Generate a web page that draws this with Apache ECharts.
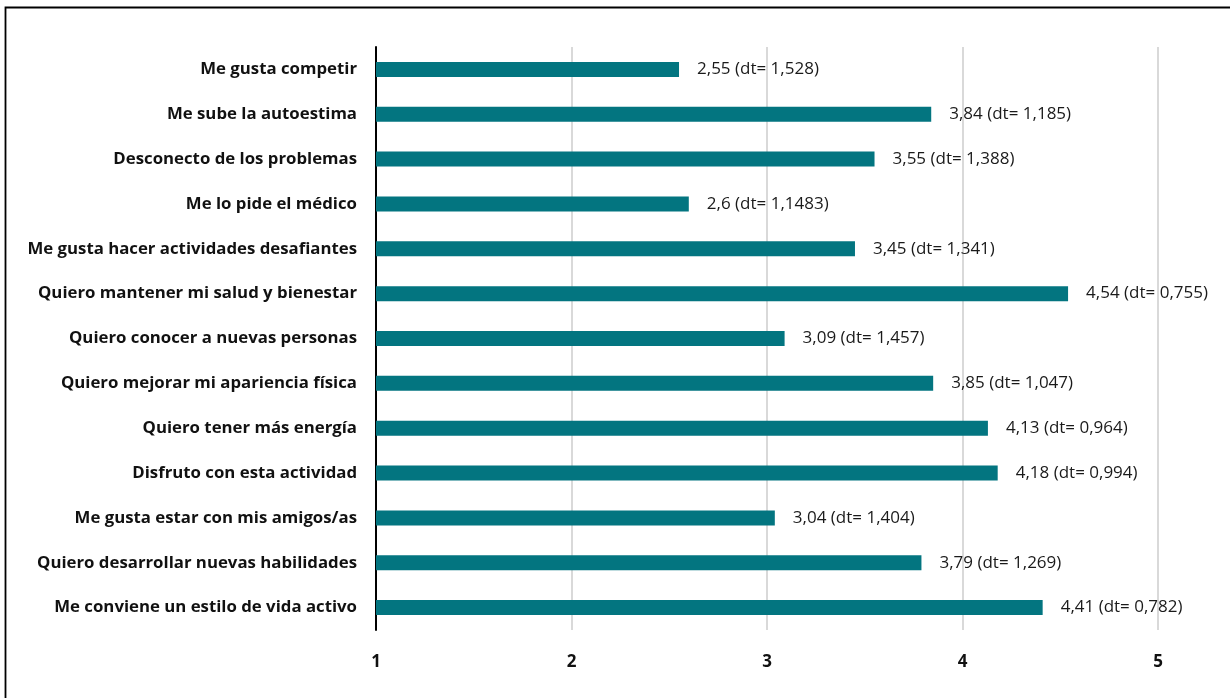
<!DOCTYPE html>
<html>
<head>
<meta charset="utf-8">
<script src="https://cdn.jsdelivr.net/npm/echarts@6/dist/echarts.min.js"></script>
<style>
  html, body { margin: 0; padding: 0; background: #fff; }
  #chart { width: 1230px; height: 698px; }
</style>
</head>
<body>
<div id="chart"></div>
<script>
// Motivos para la práctica de actividad física: media y desviación típica
const categories = [
  'Me gusta competir',
  'Me sube la autoestima',
  'Desconecto de los problemas',
  'Me lo pide el médico',
  'Me gusta hacer actividades desafiantes',
  'Quiero mantener mi salud y bienestar',
  'Quiero conocer a nuevas personas',
  'Quiero mejorar mi apariencia física',
  'Quiero tener más energía',
  'Disfruto con esta actividad',
  'Me gusta estar con mis amigos/as',
  'Quiero desarrollar nuevas habilidades',
  'Me conviene un estilo de vida activo'
];
const means = [2.55, 3.84, 3.55, 2.6, 3.45, 4.54, 3.09, 3.85, 4.13, 4.18, 3.04, 3.79, 4.41];
const deviations = ['1,528', '1,185', '1,388', '1,1483', '1,341', '0,755', '1,457', '1,047', '0,964', '0,994', '1,404', '1,269', '0,782'];
const xTicks = [1, 2, 3, 4, 5];

const FONT = '"Open Sans", "Noto Sans", sans-serif';
const chart = echarts.init(document.getElementById('chart'), null, { renderer: 'canvas' });

chart.setOption({
  backgroundColor: '#ffffff',
  animation: false,
  graphic: [{
    type: 'rect',
    shape: { x: 5.5, y: 7.5, width: 1400, height: 900 },
    style: { fill: 'none', stroke: '#000000', lineWidth: 1.8 },
    silent: true
  }],
  grid: { left: 376, right: 72, top: 47, bottom: 68, containLabel: false },
  xAxis: {
    type: 'value',
    min: xTicks[0],
    max: xTicks[xTicks.length - 1],
    interval: 1,
    axisLine: { show: false },
    axisTick: { show: false },
    axisLabel: {
      margin: 24,
      color: '#111111',
      fontFamily: FONT,
      fontWeight: 'bold',
      fontSize: 17
    },
    splitLine: { show: true, lineStyle: { color: '#d9d9d9', width: 2 } }
  },
  yAxis: {
    type: 'category',
    data: categories,
    inverse: true,
    axisLine: { show: true, lineStyle: { color: '#000000', width: 2 } },
    axisTick: { show: false },
    axisLabel: {
      margin: 19,
      color: '#111111',
      fontFamily: FONT,
      fontWeight: 'bold',
      fontSize: 16.8
    }
  },
  series: [{
    type: 'bar',
    data: means,
    barWidth: 15,
    itemStyle: { color: '#037580' },
    label: {
      show: true,
      position: 'right',
      distance: 18,
      color: '#1a1a1a',
      fontFamily: FONT,
      fontSize: 17,
      formatter: p => String(p.value).replace('.', ',') + ' (dt= ' + deviations[p.dataIndex] + ')'
    }
  }]
});
</script>
</body>
</html>
